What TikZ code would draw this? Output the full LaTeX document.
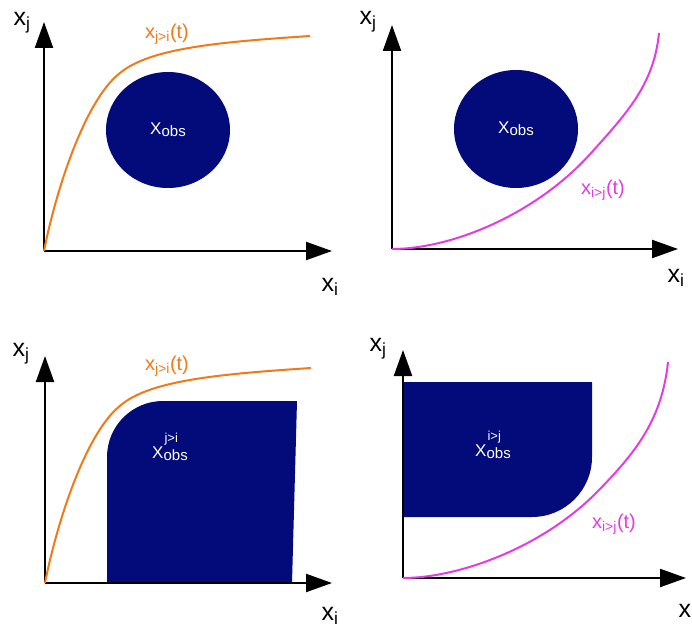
\documentclass[tikz,border=0pt]{standalone}
\usepackage{fontspec}
\setmainfont{Liberation Sans}
\usepackage{tikz}
\usetikzlibrary{arrows.meta, positioning, shapes.geometric}
\definecolor{obsblue}{HTML}{020B79}
\definecolor{jorange}{HTML}{EF7A17}
\definecolor{imagenta}{HTML}{E23CE2}

% obstacle labels: X with stacked super- and subscript
\newcommand{\obsname}[1]{X\rlap{\raisebox{16pt}{\fontsize{13}{13}\selectfont\hspace{1pt}#1}}%
  \raisebox{-2pt}{\fontsize{15}{15}\selectfont obs}}

\begin{document}
\begin{tikzpicture}[
  x=1pt, y=1pt,
  axisline/.style={line width=2.2pt, -{Triangle[length=26pt, width=18pt]}},
  jtraj/.style={draw=jorange, line width=2pt},
  itraj/.style={draw=imagenta, line width=2pt},
  obsregion/.style={fill=obsblue},
  obsdisc/.style={ellipse, fill=obsblue, text=white, inner sep=0pt,
                  font=\fontsize{17}{20}\selectfont},
  obstext/.style={text=white, inner sep=0pt, font=\fontsize{17}{20}\selectfont},
  axislabel/.style={inner sep=0pt, font=\fontsize{25}{28}\selectfont},
  traillabel/.style={inner sep=0pt, font=\fontsize{20}{24}\selectfont}
]
  \useasboundingbox (0,0) rectangle (692,627);

  % Top left: j>i trajectory around a disc
  \begin{scope}[shift={(44,376)}]
    \coordinate (o1) at (0,0);
    \coordinate (ytip1) at (0,229);
    \coordinate (xtip1) at (288,0);
    \node[obsdisc, minimum width=124pt, minimum height=116pt] (obs1) at (124,121)
      {X\raisebox{-2pt}{\fontsize{15}{15}\selectfont obs}};
    \draw[axisline] (o1) -- (ytip1);
    \draw[axisline] (o1) -- (xtip1);
    \draw[jtraj] (o1) .. controls (12,61) and (41,151) .. (76,178)
                      .. controls (106,203) and (176,209) .. (266,215);
    \node[axislabel] (xj1) at (-22,228) {x\textsubscript{j}};
    \node[axislabel] (xi1) at (286,-36) {x\textsubscript{i}};
    \node[traillabel, text=jorange] (traj1) at (123,217) {x\textsubscript{j>i}(t)};
  \end{scope}

  % Top right: i>j trajectory around a disc
  \begin{scope}[shift={(392,378)}]
    \coordinate (o2) at (0,0);
    \coordinate (ytip2) at (0,224);
    \coordinate (xtip2) at (286,0);
    \node[obsdisc, minimum width=124pt, minimum height=118pt] (obs2) at (124,120)
      {X\raisebox{-2pt}{\fontsize{15}{15}\selectfont obs}};
    \draw[axisline] (o2) -- (ytip2);
    \draw[axisline] (o2) -- (xtip2);
    \draw[itraj] (o2) .. controls (60,0) and (145,35) .. (200,97)
                      .. controls (235,136) and (262,165) .. (267,216);
    \node[axislabel] (xj2) at (-24,227) {x\textsubscript{j}};
    \node[axislabel] (xi2) at (284,-29) {x\textsubscript{i}};
    \node[traillabel, text=imagenta] (traj2) at (211,59) {x\textsubscript{i>j}(t)};
  \end{scope}

  % Bottom left: region swept for j>i
  \begin{scope}[shift={(45,44)}]
    \coordinate (o3) at (0,0);
    \coordinate (ytip3) at (0,227);
    \coordinate (xtip3) at (287,0);
    \fill[obsregion] (62,0) -- (62,126) arc[start angle=180, end angle=90, radius=56]
      -- (252,182) -- (247,0) -- cycle;
    \node[obstext] (obs3) at (125,136) {\obsname{j>i}};
    \draw[axisline] (o3) -- (ytip3);
    \draw[axisline] (o3) -- (xtip3);
    \draw[jtraj] (o3) .. controls (12,61) and (41,151) .. (76,178)
                      .. controls (106,203) and (176,209) .. (266,215);
    \node[axislabel] (xj3) at (-24,229) {x\textsubscript{j}};
    \node[axislabel] (xi3) at (285,-33) {x\textsubscript{i}};
    \node[traillabel, text=jorange] (traj3) at (122,217) {x\textsubscript{j>i}(t)};
  \end{scope}

  % Bottom right: region swept for i>j
  \begin{scope}[shift={(403,49)}]
    \coordinate (o4) at (0,0);
    \coordinate (ytip4) at (0,228);
    \coordinate (xtip4) at (283,0);
    \fill[obsregion] (0,61) -- (0,196) -- (189,196) -- (189,121)
      arc[start angle=0, end angle=-90, radius=60] -- cycle;
    \node[obstext] (obs4) at (90,133) {\obsname{i>j}};
    \draw[axisline] (o4) -- (ytip4);
    \draw[axisline] (o4) -- (xtip4);
    \draw[itraj] (o4) .. controls (55,0) and (140,30) .. (196,88)
                      .. controls (232,125) and (259,158) .. (265,216);
    \node[axislabel] (xj4) at (-25,229) {x\textsubscript{j}};
    \node[axislabel] (xi4) at (284,-35) {x\textsubscript{i}};
    \node[traillabel, text=imagenta] (traj4) at (211,54) {x\textsubscript{i>j}(t)};
  \end{scope}
\end{tikzpicture}
\end{document}
